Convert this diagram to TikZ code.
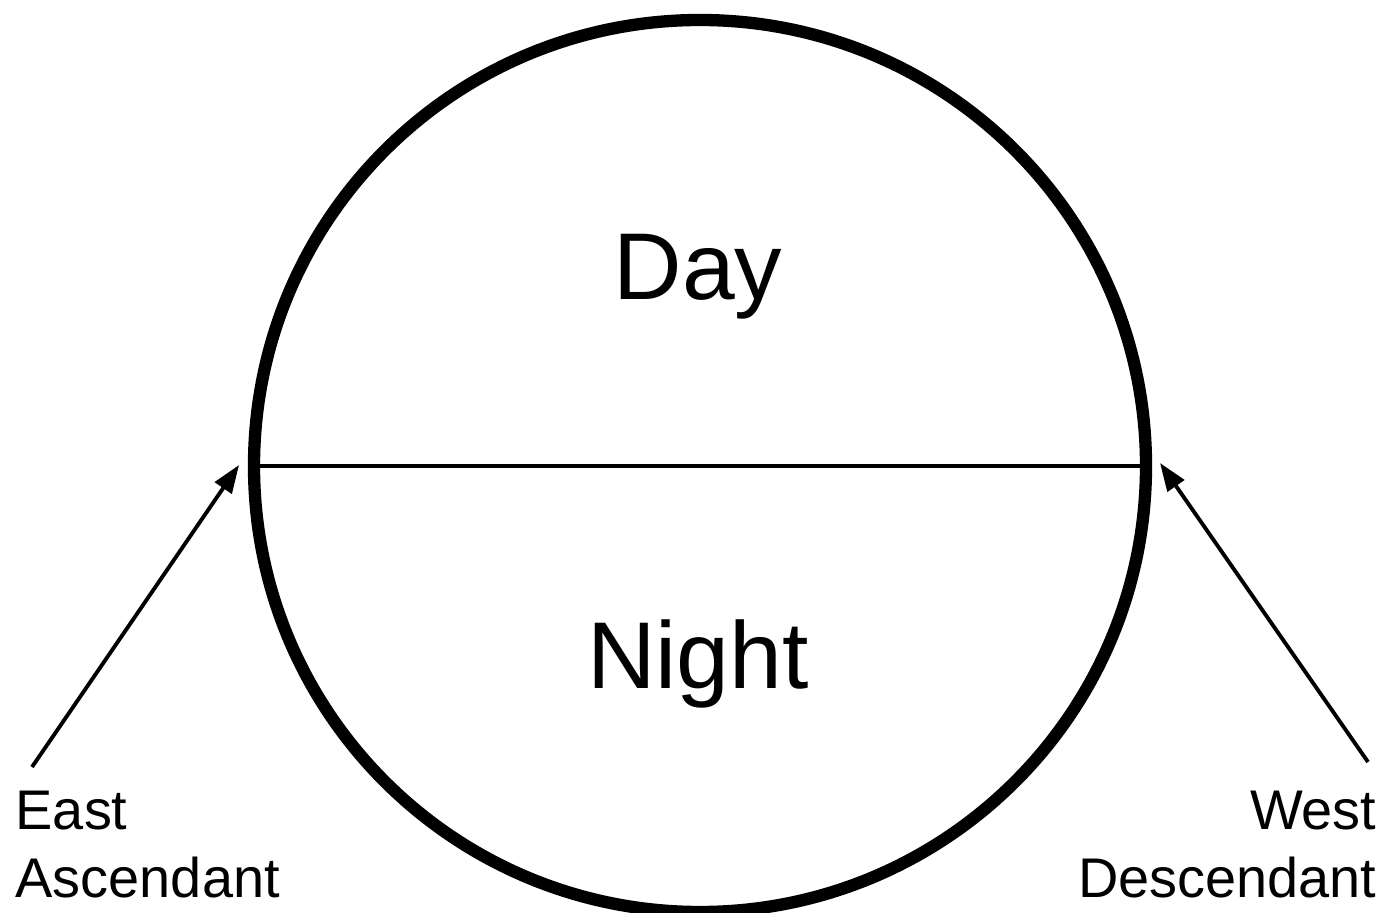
\documentclass[tikz,border=0pt]{standalone}
\usepackage{fontspec}
\setmainfont{Liberation Sans}
\usetikzlibrary{arrows.meta,positioning}

\begin{document}
\begin{tikzpicture}[
  horizon/.style={line width=0.9pt},
  pointer/.style={line width=1.1pt,-{Triangle[length=2.8mm,width=2mm]}},
  bigword/.style={font=\fontsize{27}{32}\selectfont,inner sep=0pt},
  sideword/.style={font=\fontsize{15.9}{19.4}\selectfont,inner sep=0pt}]
  \useasboundingbox (0,0) rectangle (13.86,9.12);
  % Sky circle and horizon
  \node[circle,draw,line width=3.5pt,minimum size=8.92cm,inner sep=0pt] (sky) at (7.00,4.46) {};
  \draw[horizon] (sky.west) -- (sky.east);
  \node[bigword,anchor=base] (day) at (6.98,6.12) {Day};
  \node[bigword,anchor=base] (night) at (6.98,2.24) {Night};
  % Rising and setting points
  \coordinate (sunrise) at (2.39,4.47);
  \coordinate (sunset) at (11.60,4.49);
  \coordinate (risefoot) at (0.32,1.45);
  \coordinate (setfoot) at (13.68,1.50);
  \draw[pointer] (risefoot) -- (sunrise);
  \draw[pointer] (setfoot) -- (sunset);
  \node[sideword,align=left,anchor=north west] (east) at (0.15,1.22) {East\\Ascendant};
  \node[sideword,align=right,anchor=north east] (west) at (13.77,1.22) {West\\Descendant};
\end{tikzpicture}
\end{document}
